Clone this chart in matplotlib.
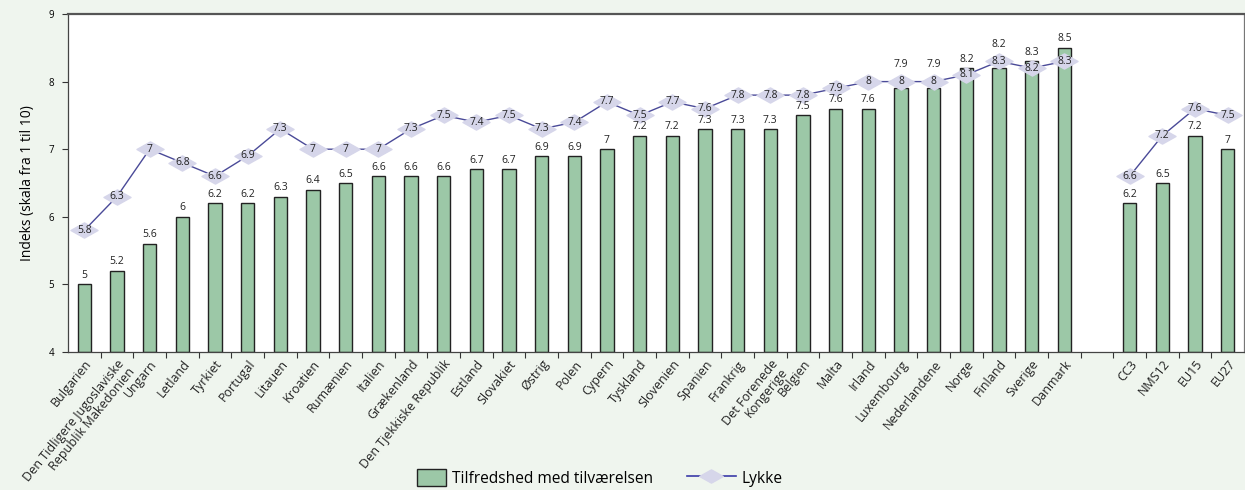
import numpy as np
import matplotlib
matplotlib.use("Agg")
import matplotlib.pyplot as plt
from matplotlib.path import Path
from matplotlib.lines import Line2D
from matplotlib.patches import Patch, Rectangle
from matplotlib.legend_handler import HandlerPatch

plt.rcParams['font.family'] = ['Open Sans', 'DejaVu Sans']

categories = ["Bulgarien", "Den Tidligere Jugoslaviske\nRepublik Makedonien", "Ungarn", "Letland",
              "Tyrkiet", "Portugal", "Litauen", "Kroatien", "Rumænien", "Italien", "Grækenland",
              "Den Tjekkiske Republik", "Estland", "Slovakiet", "Østrig", "Polen", "Cypern",
              "Tyskland", "Slovenien", "Spanien", "Frankrig", "Det Forenede\nKongerige", "Belgien",
              "Malta", "Irland", "Luxembourg", "Nederlandene", "Norge", "Finland", "Sverige",
              "Danmark", "", "CC3", "NMS12", "EU15", "EU27"]
satisfaction = [5, 5.2, 5.6, 6, 6.2, 6.2, 6.3, 6.4, 6.5, 6.6, 6.6, 6.6, 6.7, 6.7, 6.9, 6.9, 7,
                7.2, 7.2, 7.3, 7.3, 7.3, 7.5, 7.6, 7.6, 7.9, 7.9, 8.2, 8.2, 8.3, 8.5,
                np.nan, 6.2, 6.5, 7.2, 7]
happiness = [5.8, 6.3, 7, 6.8, 6.6, 6.9, 7.3, 7, 7, 7, 7.3, 7.5, 7.4, 7.5, 7.3, 7.4, 7.7,
             7.5, 7.7, 7.6, 7.8, 7.8, 7.8, 7.9, 8, 8, 8, 8.1, 8.3, 8.2, 8.3,
             np.nan, 6.6, 7.2, 7.6, 7.5]
yticks = [4, 5, 6, 7, 8, 9]

bg = '#eff5ee'
bar_color = '#9cc8a7'
line_color = '#4a4a98'
diamond_color = '#d6d6ea'

fig = plt.figure(figsize=(12.45, 4.9), dpi=100, facecolor=bg)
ax = fig.add_axes([68/1245, 1-352/490, (1244-68)/1245, (352-14)/490])
ax.set_facecolor('white')

x = np.arange(len(categories))
sat = np.array(satisfaction, dtype=float)
hap = np.array(happiness, dtype=float)
m = ~np.isnan(sat)

ax.bar(x[m], sat[m] - 4, bottom=4, width=0.41, color=bar_color,
       edgecolor='#222222', linewidth=1.0, zorder=2)

diamond = Path([(-1, 0), (0, 0.56), (1, 0), (0, -0.56), (-1, 0)],
               [Path.MOVETO, Path.LINETO, Path.LINETO, Path.LINETO, Path.CLOSEPOLY])
ax.plot(x, hap, color=line_color, linewidth=1.0, marker=diamond, markersize=19.5,
        markerfacecolor=diamond_color, markeredgecolor=diamond_color, zorder=3)

def fmt(v):
    return ('%g' % v)

for xi, v, h in zip(x, sat, hap):
    if not np.isnan(v):
        yb = v + 0.05
        if 0 <= h - v < 0.25:
            yb = h + 0.17
        ax.text(xi, yb, fmt(v), ha='center', va='bottom', fontsize=7.5,
                color='#222222', zorder=4)
for xi, v in zip(x, hap):
    if not np.isnan(v):
        ax.text(xi, v, fmt(v), ha='center', va='center', fontsize=7.5,
                color='#222222', zorder=4)

ax.set_xlim(-0.5, len(categories) - 0.5)
ax.set_ylim(4, 9)
ax.set_yticks(yticks)
ax.set_yticklabels([str(t) for t in yticks], fontsize=7)
ax.set_ylabel("Indeks (skala fra 1 til 10)", fontsize=10, labelpad=10)

ax.set_xticks(x)
ax.set_xticklabels(categories, rotation=51, ha='right', rotation_mode='anchor', fontsize=9.0,
                   color='#222222', linespacing=1.0)
ax.tick_params(axis='x', length=0, pad=4)
ax.set_xticks(np.arange(-0.5, len(categories) - 0.5, 1.0)[1:], minor=True)
ax.tick_params(axis='x', which='minor', length=4, width=0.8, color='#333333')
ax.tick_params(axis='y', length=4, width=0.8, color='#333333', pad=6)

for s in ['left', 'bottom', 'right']:
    ax.spines[s].set_color('#444444')
    ax.spines[s].set_linewidth(0.9)
ax.spines['top'].set_color('#555555')
ax.spines['top'].set_linewidth(1.6)
ax.spines['right'].set_color('#777777')


def small_rect(legend, orig_handle, xdescent, ydescent, width, height, fontsize):
    w = width * 0.6
    h = height * 1.05
    return Rectangle((-xdescent + width - w, -ydescent + (height - h) / 2), w, h)


handles = [Patch(facecolor=bar_color, edgecolor='#222222', linewidth=1.0),
           Line2D([0], [0], color='#3a3aa8', linewidth=1.2, marker=diamond, markersize=17,
                  markerfacecolor=diamond_color, markeredgecolor=diamond_color)]
leg = fig.legend(handles, ["Tilfredshed med tilværelsen", "Lykke"], loc='center',
                 bbox_to_anchor=(0.474, 1-478/490), ncol=2, frameon=False, fontsize=11.2,
                 handlelength=3.1, handleheight=1.2, columnspacing=2.2, handletextpad=0.4,
                 handler_map={Patch: HandlerPatch(patch_func=small_rect)})

fig.savefig("out.png", dpi=100, facecolor=bg)
